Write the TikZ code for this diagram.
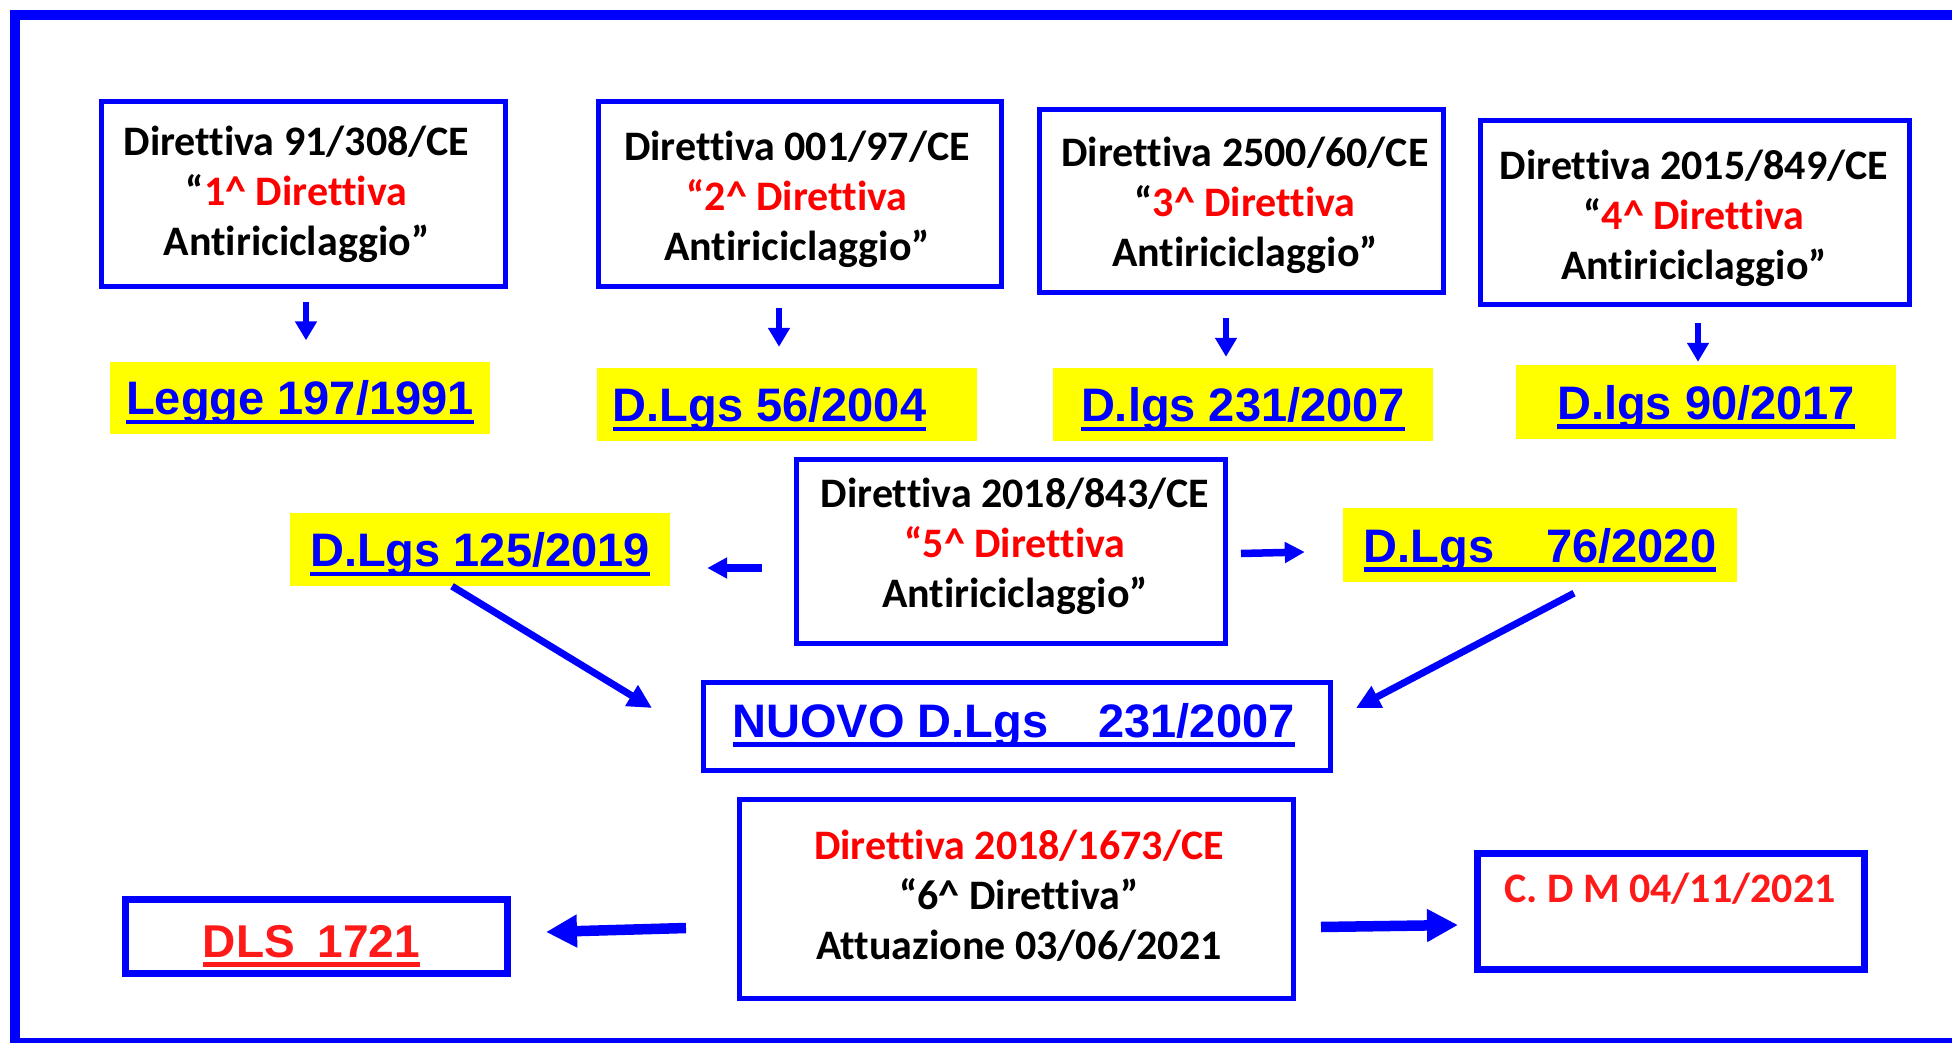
\documentclass[tikz,border=0pt]{standalone}
\usepackage{fontspec}
\setmainfont{Carlito}[Ligatures=NoCommon]
\newfontfamily\arl{Liberation Sans}
\usetikzlibrary{arrows.meta}
\definecolor{bl}{HTML}{0000FF}
\definecolor{rd}{HTML}{FF0000}
\definecolor{rdb}{HTML}{FF1A1A}
\definecolor{yl}{HTML}{FFFF00}
\newsavebox\ulbox
\newcommand{\myul}[1]{\sbox\ulbox{#1}\rlap{\rule[-9.5pt]{\wd\ulbox}{4.5pt}}\usebox\ulbox}
\newcommand{\mylines}[1]{\begin{tabular}[t]{@{}c@{}}#1\end{tabular}}
\newcommand{\ci}{\textasciicircum}
\begin{document}
\begin{tikzpicture}[x=1pt,y=-1pt,
  box/.style={draw=bl, line width=5pt, inner sep=0pt},
  tbox/.style={draw=bl, line width=7pt, inner sep=0pt},
  lab/.style={fill=yl, inner sep=0pt, text height=34pt, text depth=0pt,
    font=\arl\bfseries\fontsize{47}{50}\selectfont, text=bl},
  btxt/.style={anchor=base, inner sep=0pt, font=\bfseries\fontsize{42}{50}\selectfont},
  atxt/.style={anchor=base, inner sep=0pt, font=\arl\bfseries\fontsize{#1}{50}\selectfont},
  arS/.style={draw=bl, line width=6pt, -{Triangle[length=19pt,width=21pt]}},
  arM/.style={draw=bl, line width=7.5pt, -{Triangle[length=20pt,width=20pt]}},
  arD/.style={draw=bl, line width=7pt, -{Triangle[length=24pt,width=23pt]}},
  arT/.style={draw=bl, line width=10.5pt, -{Triangle[length=31pt,width=31pt]}}]
\useasboundingbox (0,0) rectangle (1952,1043);
\clip (0,0) rectangle (1952,1043);
\fill[white] (0,0) rectangle (1952,1043);
% frame
\draw[bl, line width=10pt] (2100,15) -- (15,15) -- (15,1043) -- (2100,1043);

% boxes
\node[box, minimum width=404pt, minimum height=185pt] (b1) at (303.5,194) {};
\node[box, minimum width=403pt, minimum height=185pt] (b2) at (800,194) {};
\node[box, minimum width=404pt, minimum height=183pt] (b3) at (1241.5,201) {};
\node[box, minimum width=429pt, minimum height=184pt] (b4) at (1695,212.5) {};
\node[box, minimum width=429pt, minimum height=184pt] (b5) at (1011,551.5) {};
\node[box, minimum width=627pt, minimum height=88pt] (nv) at (1017,726.5) {};
\node[box, minimum width=554pt, minimum height=199pt] (b6) at (1016.5,899) {};
\node[tbox, minimum width=382pt, minimum height=74pt] (dls) at (316.5,936.5) {};
\node[tbox, minimum width=387pt, minimum height=116pt] (cdm) at (1671,911.5) {};

% box texts
\node[btxt] (t1) at (296.5,156) {\mylines{Direttiva 91/308/CE\\“\textcolor{rd}{1\ci{} Direttiva}\\Antiriciclaggio”}};
\node[btxt] (t2) at (797,161) {\mylines{Direttiva 001/97/CE\\\textcolor{rd}{“2\ci{} Direttiva}\\Antiriciclaggio”}};
\node[btxt] (t3) at (1245,167) {\mylines{Direttiva 2500/60/CE\\“\textcolor{rd}{3\ci{} Direttiva}\\Antiriciclaggio”}};
\node[btxt] (t4) at (1694,180) {\mylines{Direttiva 2015/849/CE\\“\textcolor{rd}{4\ci{} Direttiva}\\Antiriciclaggio”}};
\node[btxt] (t5) at (1015,507) {\mylines{Direttiva 2018/843/CE\\\textcolor{rd}{“5\ci{} Direttiva}\\Antiriciclaggio”}};
\node[btxt] (t6) at (1019,859) {\mylines{\textcolor{rd}{Direttiva 2018/1673/CE}\\“6\ci{} Direttiva”\\Attuazione 03/06/2021}};
\node[btxt, text=rdb] (tc) at (1670,902) {C. D M 04/11/2021};
\node[atxt=47, text=bl] (tn) at (1013.5,737) {\myul{NUOVO D.Lgs\hspace{50pt}231/2007}};
\node[atxt=46, text=rdb] (td) at (311.5,957) {\myul{DLS\hspace{23pt}1721}};

% yellow labels
\node[lab, minimum width=380pt, minimum height=72pt] (l1) at (300,397.5) {\myul{Legge 197/1991}};
\node[lab, minimum width=380pt, minimum height=73pt] (l2) at (787,404.5) {\myul{D.Lgs 56/2004}\hspace*{35pt}};
\node[lab, minimum width=380pt, minimum height=73pt] (l3) at (1243,404.5) {\myul{D.lgs 231/2007}};
\node[lab, minimum width=380pt, minimum height=74pt] (l4) at (1706,402) {\myul{D.lgs 90/2017}};
\node[lab, minimum width=380pt, minimum height=73pt] (l5) at (480,549.5) {\myul{D.Lgs 125/2019}};
\node[lab, minimum width=394pt, minimum height=74pt] (l6) at (1540,545) {\myul{D.Lgs\hspace{52pt}76/2020}};

% arrows
\draw[arS] ([xshift=2.5pt,yshift=-13pt]b1.south) -- ([xshift=6pt,yshift=21pt]l1.north);
\draw[arS] ([xshift=-21pt,yshift=-19pt]b2.south) -- ([xshift=-8pt,yshift=21pt]l2.north);
\draw[arS] ([xshift=-15.5pt,yshift=-23pt]b3.south) -- ([xshift=-17pt,yshift=11pt]l3.north);
\draw[arS] ([xshift=3pt,yshift=-16pt]b4.south) -- ([xshift=-8pt,yshift=3pt]l4.north);
\draw[arM] ([xshift=-32pt,yshift=-16.5pt]b5.west) -- ([xshift=37pt,yshift=-18.5pt]l5.east);
\draw[arM] ([xshift=13pt,yshift=-2pt]b5.east) -- ([xshift=-38pt,yshift=-7pt]l6.west);
\draw[arD] ([xshift=-28pt,yshift=0pt]l5.south) -- ([xshift=-49pt,yshift=18.5pt]nv.west);
\draw[arD] ([xshift=34pt,yshift=-11pt]l6.south) -- ([xshift=23pt,yshift=18.5pt]nv.east);
\draw[arT] ([xshift=-51pt,yshift=-29pt]b6.west) -- ([xshift=35pt,yshift=4.5pt]dls.east);
\draw[arT] ([xshift=25pt,yshift=-28pt]b6.east) -- ([xshift=-16pt,yshift=-13.5pt]cdm.west);
\end{tikzpicture}
\end{document}
